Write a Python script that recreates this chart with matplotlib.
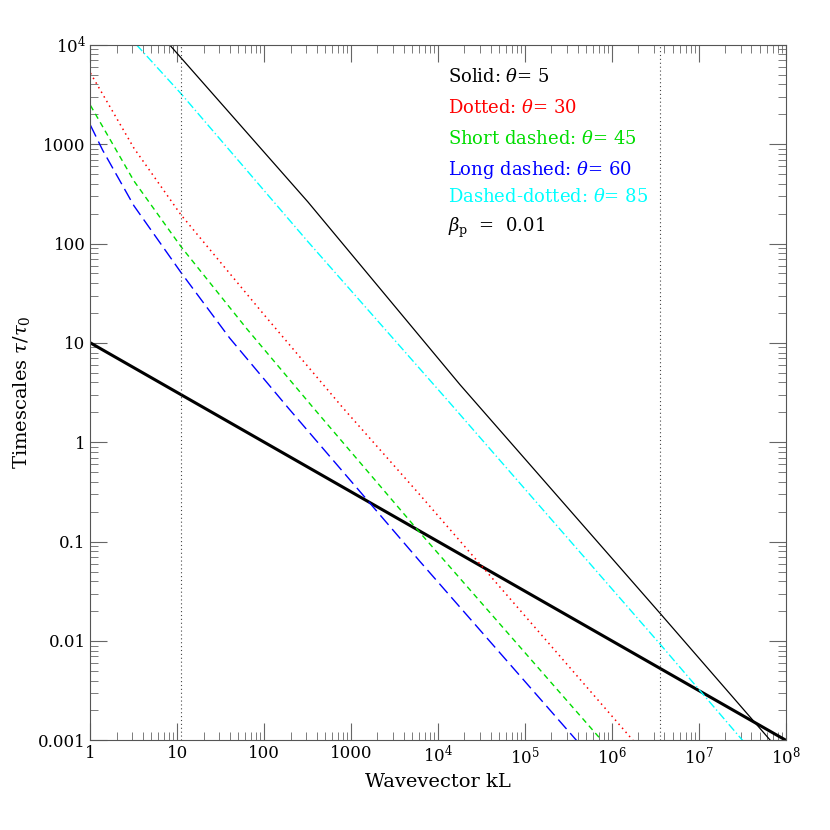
import numpy as np
import matplotlib
matplotlib.use("Agg")
import matplotlib.pyplot as plt
from matplotlib.ticker import FixedLocator, LogLocator, NullFormatter

# log10 points
thick_k = [0.0, 8.0]
thick_t = [1.0, -3.0]
solid_k = [0.91, 2.5, 4.25, 6.56, 7.82]
solid_t = [4.0, 2.42, 0.58, -1.73, -3.0]
cyan_k = [0.53, 1.04, 2.5, 4.13, 6.56, 7.50]
cyan_t = [4.0, 3.51, 2.02, 0.40, -2.04, -3.0]
red_k = [0.0, 0.5, 1.04, 2.0, 2.90, 3.79, 6.24]
red_t = [3.715, 2.96, 2.29, 1.28, 0.35, -0.53, -3.0]
green_k = [0.0, 0.5, 1.04, 1.8, 2.56, 3.79, 5.88]
green_t = [3.39, 2.63, 1.97, 1.14, 0.35, -0.91, -3.0]
blue_k = [0.0, 0.14, 0.5, 1.04, 1.6, 2.27, 3.79, 5.59]
blue_t = [3.19, 2.94, 2.38, 1.71, 1.05, 0.35, -1.20, -3.0]
vlines = [11, 3.6e6]
xticks = [1, 10, 100, 1000, 1e4, 1e5, 1e6, 1e7, 1e8]
xlabels = ["1", "10", "100", "1000", r"10$^4$", r"10$^5$", r"10$^6$", r"10$^7$", r"10$^8$"]
yticks = [1e-3, 1e-2, 0.1, 1, 10, 100, 1000, 1e4]
ylabels = ["0.001", "0.01", "0.1", "1", "10", "100", "1000", r"10$^4$"]

plt.rcParams["font.family"] = "DejaVu Serif"
plt.rcParams["mathtext.fontset"] = "dejavuserif"
fig = plt.figure(figsize=(8.3, 8.3), dpi=100)
ax = fig.add_axes([0.109, 0.108, 0.838, 0.838])
p = lambda a: 10.0 ** np.array(a, dtype=float)
ax.plot(p(thick_k), p(thick_t), color="black", lw=2.2)
ax.plot(p(solid_k), p(solid_t), color="black", lw=0.9)
ax.plot(p(cyan_k), p(cyan_t), color="cyan", lw=1.0, dashes=(6, 2, 1, 2))
ax.plot(p(red_k), p(red_t), color="red", lw=1.1, dashes=(1, 2.5))
ax.plot(p(green_k), p(green_t), color="#00dd00", lw=1.0, dashes=(4, 3))
ax.plot(p(blue_k), p(blue_t), color="blue", lw=1.0, dashes=(9, 4))
for v in vlines:
    ax.axvline(v, color="#444444", lw=0.8, ls=(0, (1, 2.5)))
ax.set_xscale("log"); ax.set_yscale("log")
ax.set_xlim(1, 1e8); ax.set_ylim(1e-3, 1e4)
ax.xaxis.set_major_locator(FixedLocator(xticks))
ax.set_xticklabels(xlabels)
ax.yaxis.set_major_locator(FixedLocator(yticks))
ax.set_yticklabels(ylabels)
for axis in (ax.xaxis, ax.yaxis):
    axis.set_minor_locator(LogLocator(base=10, subs=np.arange(2, 10), numticks=20))
    axis.set_minor_formatter(NullFormatter())
ax.tick_params(which="both", direction="in", top=True, right=True, labelsize=12, color="#666666")
ax.tick_params(which="major", length=12)
ax.tick_params(which="minor", length=6)
for s in ax.spines.values():
    s.set_color("#555555")
ax.set_xlabel("Wavevector kL", fontsize=14)
ax.set_ylabel(r"Timescales $\tau/\tau_0$", fontsize=14)
leg = [("Solid: $\\theta$= 5", "black"), ("Dotted: $\\theta$= 30", "red"),
       ("Short dashed: $\\theta$= 45", "#00dd00"), ("Long dashed: $\\theta$= 60", "blue"),
       ("Dashed-dotted: $\\theta$= 85", "cyan"), ("$\\beta_{\\rm p}$  =  0.01", "black")]
ys = [77, 108, 139, 170, 197, 228]
for (t, c), y in zip(leg, ys):
    fig.text(448 / 830, 1 - y / 830, t, color=c, fontsize=13, va="center")
fig.savefig("out.png")
